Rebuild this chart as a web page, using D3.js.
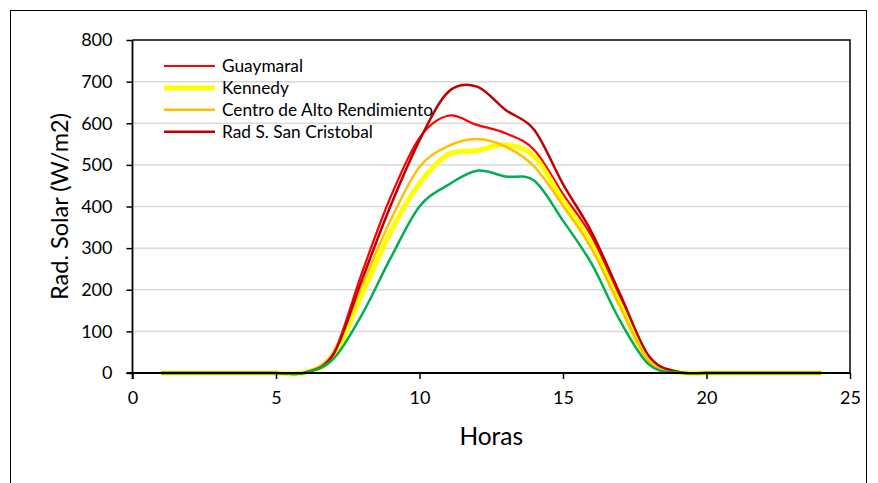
<!DOCTYPE html>
<html>
<head>
<meta charset="utf-8">
<script src="https://cdn.jsdelivr.net/npm/d3@7"></script>
<style>
  html, body { margin: 0; padding: 0; background: #fff; }
  svg { display: block; }
  text { font-family: Lato, sans-serif; fill: #000; }
</style>
</head>
<body>
<svg id="chart" width="878" height="483"></svg>
<script>
// ---- data ----
const hours = [1,2,3,4,5,6,7,8,9,10,11,12,13,14,15,16,17,18,19,20,21,22,23,24];
const seriesNames = ["Guaymaral", "Kennedy", "Centro de Alto Rendimiento", "Rad S. San Cristobal", ""];
const guaymaral  = [0,0,0,0,0,1,48,242,424,565,618,596,576,536,430,328,178,32,2,0,0,0,0,0];
const kennedy    = [0,0,0,0,0,1,40,190,340,455,525,534,548,520,414,308,163,28,2,0,0,0,0,0];
const centro     = [0,0,0,0,0,1,50,211,368,495,545,562,544,496,402,298,158,28,2,0,0,0,0,0];
const sanCristobal = [0,0,0,0,0,1,45,225,403,559,675,688,632,584,454,338,188,40,3,0,0,0,0,0];
const otra       = [0,0,0,0,0,0,34,141,277,400,452,486,472,462,366,262,124,20,1,0,0,0,0,0];
const xTicks = [0,5,10,15,20,25];
const yTicks = [0,100,200,300,400,500,600,700,800];
const xTitle = "Horas";
const yTitle = "Rad. Solar (W/m2)";

// ---- styles ----
const styles = [
  {color:"#FF0000", width:2.2, legend:true},
  {color:"#FFFF00", width:5,   legend:true},
  {color:"#FFC000", width:2.5, legend:true},
  {color:"#C00000", width:2.5, legend:true},
  {color:"#00B050", width:2.5, legend:false}
];
const allSeries = [guaymaral, kennedy, centro, sanCristobal, otra];
const tickFont = "'Open Sans', sans-serif";

const svg = d3.select("#chart");

// outer frame
svg.append("rect").attr("x",10.5).attr("y",10.5).attr("width",856).attr("height",520)
  .attr("fill","none").attr("stroke","#000").attr("stroke-width",1);

const x = d3.scaleLinear().domain([0,25]).range([132.5,850]);
const y = d3.scaleLinear().domain([0,800]).range([373,40]);

// gridlines
svg.append("g").selectAll("line").data(yTicks.filter(d=>d>0 && d<800)).join("line")
  .attr("x1",x(0)).attr("x2",x(25))
  .attr("y1",d=>y(d)).attr("y2",d=>y(d))
  .attr("stroke","#D9D9D9").attr("stroke-width",1.5);

// plot area border (top & right)
svg.append("path")
  .attr("d",`M${x(0)},${y(800)}H${x(25)}V${y(0)}`)
  .attr("fill","none").attr("stroke","#000").attr("stroke-width",1.5);

// series
const line = d3.line()
  .x((d,i)=>x(hours[i]))
  .y(d=>y(d))
  .curve(d3.curveCardinal.tension(0));

svg.append("g").selectAll("path").data(allSeries).join("path")
  .attr("d",d=>line(d))
  .attr("fill","none")
  .attr("stroke",(d,i)=>styles[i].color)
  .attr("stroke-width",(d,i)=>styles[i].width)
  .attr("stroke-linejoin","round");

// axes
const yAxis = d3.axisLeft(y).tickValues(yTicks).tickSize(6).tickPadding(14).tickFormat(d3.format("d"));
const gy = svg.append("g").attr("transform",`translate(${x(0)},0)`).call(yAxis);
gy.select(".domain").attr("stroke","#000").attr("stroke-width",1.8).attr("d",`M0,${y(0)+6}V${y(800)}`);
gy.selectAll(".tick line").attr("stroke","#000").attr("stroke-width",1.5);
gy.selectAll(".tick text").attr("font-size",18).attr("font-family",tickFont).attr("fill","#000");

const xAxis = d3.axisBottom(x).tickValues(xTicks).tickSize(6).tickPadding(12).tickFormat(d3.format("d"));
const gx = svg.append("g").attr("transform",`translate(0,${y(0)})`).call(xAxis);
gx.select(".domain").attr("stroke","#000").attr("stroke-width",1.8).attr("d",`M${x(0)-6},0H${x(25)}`);
gx.selectAll(".tick line").attr("stroke","#000").attr("stroke-width",1.5);
gx.selectAll(".tick text").attr("font-size",18).attr("font-family",tickFont).attr("fill","#000");

// titles
svg.append("text").attr("x",(x(0)+x(25))/2).attr("y",445)
  .attr("text-anchor","middle").attr("font-size",24.5).text(xTitle);
svg.append("text").attr("transform",`translate(68,${(y(0)+y(800))/2}) rotate(-90)`)
  .attr("text-anchor","middle").attr("font-size",23.5).text(yTitle);

// legend
const legendItems = seriesNames.map((n,i)=>({name:n, style:styles[i]})).filter(d=>d.style.legend);
const lg = svg.append("g").selectAll("g").data(legendItems).join("g")
  .attr("transform",(d,i)=>`translate(164,${66 + i*21.9})`);
lg.append("line").attr("x1",0).attr("x2",51).attr("y1",0).attr("y2",0)
  .attr("stroke",d=>d.style.color).attr("stroke-width",d=>d.style.width);
lg.append("text").attr("x",58).attr("y",6.2).attr("font-size",17.3).attr("fill","#262626").text(d=>d.name);
</script>
</body>
</html>
